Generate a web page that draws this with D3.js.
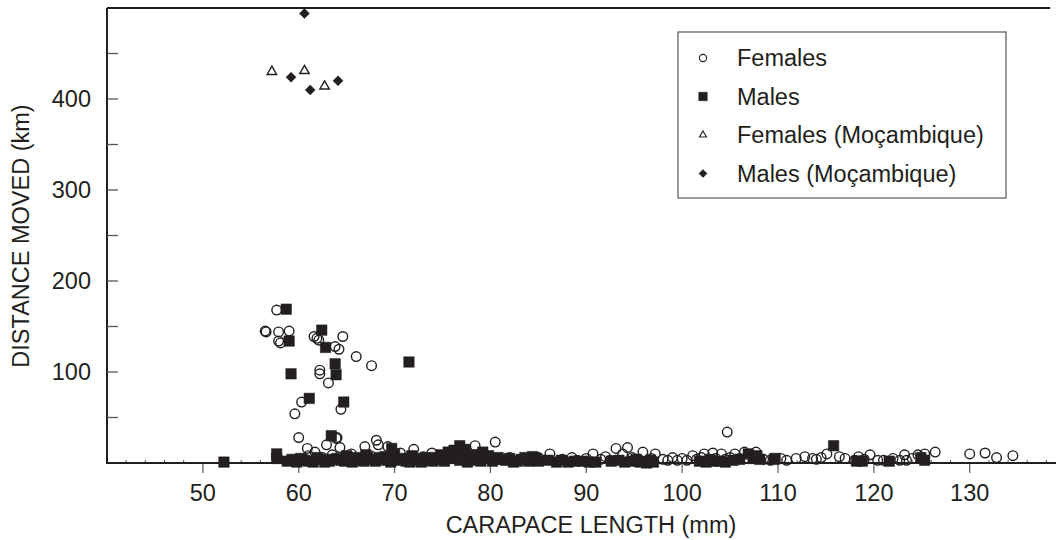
<!DOCTYPE html>
<html>
<head>
<meta charset="utf-8">
<script src="https://cdn.jsdelivr.net/npm/d3@7"></script>
<style>
    body { margin: 0; background: #fff; }
    text { font-family: "Liberation Sans", Arial, sans-serif; fill: #231f20; }
</style>
</head>
<body>
<div id="chart"></div>
<script>
// carapace length (mm), distance moved (km)
const females = [
    [57.7, 168], [56.5, 145], [56.6, 144], [57.9, 144], [59.0, 145], [57.9, 134], [58.1, 132],
    [61.6, 139], [61.9, 137], [62.1, 135], [63.8, 128], [64.2, 125], [64.6, 139], [66.0, 117],
    [67.6, 107], [62.2, 102], [62.2, 98], [63.1, 88], [60.3, 67], [59.6, 54], [64.4, 59],
    [60.0, 28], [64.0, 28],
    [60.9, 16], [61.7, 12], [62.9, 20], [63.9, 27], [64.3, 17], [66.9, 18], [68.1, 25], [68.3, 20],
    [69.3, 18], [70.6, 11], [72.0, 15], [73.9, 11], [78.4, 19], [80.5, 23], [86.2, 10], [90.7, 10],
    [93.1, 16], [94.3, 17], [93.8, 10], [95.9, 12], [97.2, 10], [99.0, 6], [101.1, 8], [102.3, 10],
    [103.2, 11], [104.1, 10], [105.5, 10], [106.5, 12], [107.7, 12], [104.7, 34], [110.3, 5],
    [110.9, 3], [111.9, 5], [112.8, 7], [113.6, 5], [115.1, 10], [116.4, 7], [118.4, 7], [119.6, 9],
    [120.4, 3], [122.7, 3], [123.2, 9], [123.4, 3], [124.6, 9], [125.3, 10], [126.4, 12],
    [130.0, 10], [131.6, 11], [132.8, 6], [134.5, 8],
    [59.5, 3], [60.5, 5], [61.0, 8], [62.5, 6], [63.5, 9], [65.0, 6], [65.5, 10], [67.5, 8],
    [71.0, 5], [73.0, 7], [74.5, 4], [76.0, 6], [79.5, 8], [81.0, 4], [82.0, 6], [83.0, 3],
    [84.0, 5], [85.0, 6], [87.5, 4], [88.5, 6], [89.0, 3], [90.0, 5], [91.5, 4], [92.0, 7],
    [92.5, 3], [94.8, 6], [95.5, 4], [96.8, 5], [98.0, 4], [98.5, 3], [99.5, 3], [100.0, 5],
    [100.5, 3], [101.5, 4], [102.0, 6], [103.5, 5], [104.5, 4], [105.0, 6], [106.0, 5],
    [108.5, 4], [109.2, 3], [114.0, 4], [114.5, 6], [117.0, 5], [118.0, 3], [119.0, 4],
    [121.0, 3], [122.0, 5], [124.0, 5]
];
const males = [
    [58.7, 169], [59.0, 134], [59.2, 98], [62.4, 146], [62.8, 127], [63.8, 109], [63.9, 97],
    [71.5, 111], [61.1, 71], [64.7, 67], [63.4, 30], [69.7, 16], [76.8, 19], [79.2, 12],
    [84.4, 7], [115.8, 19], [52.2, 1], [57.7, 5], [57.7, 10],
    [58.8, 2], [59.8, 1], [60.6, 3], [61.5, 1], [62.3, 4], [63.2, 2], [64.0, 5], [64.8, 2],
    [65.6, 1], [66.4, 3], [67.2, 6], [68.0, 2], [68.8, 4], [69.6, 1], [70.4, 3], [71.2, 2],
    [72.0, 5], [72.8, 1], [73.6, 3], [74.3, 6], [74.8, 9], [75.2, 2], [75.6, 12], [76.0, 5],
    [76.4, 8], [76.8, 3], [77.2, 10], [77.6, 1], [78.0, 6], [78.6, 3], [79.4, 5], [80.2, 2],
    [80.8, 6], [81.6, 3], [82.4, 1], [83.2, 4], [84.0, 2], [85.0, 2], [86.9, 1], [87.4, 3],
    [88.1, 1], [88.8, 2], [89.6, 2], [90.3, 1], [91.0, 1], [92.6, 2], [94.0, 1], [94.8, 2],
    [95.6, 1], [96.3, 0], [97.0, 1], [101.8, 2], [102.5, 1], [103.2, 2], [104.0, 2], [106.0, 4],
    [106.9, 10], [107.4, 5], [108.1, 4], [109.6, 4], [109.7, 5], [118.2, 2], [118.8, 2],
    [121.6, 2], [124.9, 6], [125.3, 3], [65.0, 8], [67.0, 9], [69.0, 7], [70.0, 10], [71.8, 8],
    [66.0, 6],
    [59.3, 4], [60.2, 5], [61.0, 2], [61.9, 6], [62.7, 1], [63.6, 4], [64.4, 3], [65.2, 5],
    [66.8, 2], [67.6, 4], [68.4, 6], [69.2, 3], [70.8, 5], [71.6, 1], [72.4, 3], [73.2, 6],
    [74.0, 2], [74.6, 4], [75.4, 7], [76.2, 14], [77.0, 6], [77.4, 15], [78.3, 9], [79.0, 2],
    [79.8, 8], [81.2, 4], [82.0, 5], [82.8, 2], [83.6, 6], [84.8, 5], [86.0, 3], [93.4, 3],
    [95.2, 4], [96.7, 3], [102.9, 4], [104.5, 1], [105.3, 3], [107.8, 8]
];
const femalesMoz = [[57.2, 430], [60.6, 431], [62.7, 414]];
const malesMoz = [[60.6, 494], [59.2, 424], [61.2, 410], [64.1, 420]];

const xTicks = [50, 60, 70, 80, 90, 100, 110, 120, 130];
const yTicks = [100, 200, 300, 400];
const legendLabels = ["Females", "Males", "Females (Moçambique)", "Males (Moçambique)"];

const width = 1058, height = 540;
const plotLeft = 107, plotRight = 1056, plotTop = 8, plotBottom = 463;
const ink = "#231f20";

const x = d3.scaleLinear().domain([40, 139]).range([plotLeft, plotRight]);
const y = d3.scaleLinear().domain([0, 500]).range([plotBottom, plotTop]);

const svg = d3.select("#chart").append("svg")
    .attr("width", width)
    .attr("height", height);

// frame: top and left edges
svg.append("line")
    .attr("x1", plotLeft).attr("x2", x(138.4)).attr("y1", plotTop).attr("y2", plotTop)
    .attr("stroke", ink).attr("stroke-width", 2);
svg.append("line")
    .attr("x1", plotLeft).attr("x2", plotLeft).attr("y1", plotTop).attr("y2", plotBottom)
    .attr("stroke", ink).attr("stroke-width", 2);

// y ticks every 50, inward
const yAll = d3.range(50, 500, 50);
svg.append("g").selectAll("line")
    .data(yAll)
    .join("line")
    .attr("x1", plotLeft).attr("x2", plotLeft + 11)
    .attr("y1", d => y(d)).attr("y2", d => y(d))
    .attr("stroke", "#555").attr("stroke-width", 1.3);
svg.append("g").selectAll("text")
    .data(yTicks)
    .join("text")
    .attr("x", 91)
    .attr("y", d => y(d))
    .attr("dy", "0.35em")
    .attr("text-anchor", "end")
    .style("font-size", "23.5px")
    .text(d => d);

// x minor ticks (every 2 mm, small, inward) and major ticks (outward)
svg.append("g").selectAll("line")
    .data(d3.range(42, 139, 2).filter(v => v % 10 !== 0))
    .join("line")
    .attr("x1", d => x(d)).attr("x2", d => x(d))
    .attr("y1", plotBottom).attr("y2", plotBottom - 3)
    .attr("stroke", "#555").attr("stroke-width", 1);
svg.append("g").selectAll("line")
    .data(xTicks)
    .join("line")
    .attr("x1", d => x(d)).attr("x2", d => x(d))
    .attr("y1", plotBottom).attr("y2", plotBottom + 10)
    .attr("stroke", "#666").attr("stroke-width", 1.3);
svg.append("g").selectAll("text")
    .data(xTicks)
    .join("text")
    .attr("x", d => x(d))
    .attr("y", 501)
    .attr("text-anchor", "middle")
    .style("font-size", "23.5px")
    .text(d => d);

// axis titles
svg.append("text")
    .attr("x", 591).attr("y", 533)
    .attr("text-anchor", "middle")
    .style("font-size", "23.5px")
    .text("CARAPACE LENGTH (mm)");
svg.append("text")
    .attr("transform", "translate(29,236) rotate(-90)")
    .attr("text-anchor", "middle")
    .style("font-size", "23.5px")
    .text("DISTANCE MOVED (km)");

// marker shapes
const circlePath = r => d3.symbol(d3.symbolCircle, Math.PI * r * r)();
const squarePath = s => `M${-s / 2},${-s / 2}h${s}v${s}h${-s}Z`;
const diamondPath = s => `M0,${-s / 2}L${s / 2},0L0,${s / 2}L${-s / 2},0Z`;
const trianglePath = s => {
    const h = s * Math.sqrt(3) / 2;
    return `M0,${-h * 2 / 3}L${s / 2},${h / 3}L${-s / 2},${h / 3}Z`;
};

const marks = svg.append("g");
function plot(data, path, filled) {
    marks.append("g").selectAll("path")
        .data(data)
        .join("path")
        .attr("transform", d => `translate(${x(d[0])},${y(d[1])})`)
        .attr("d", path)
        .attr("fill", filled ? ink : "none")
        .attr("stroke", ink)
        .attr("stroke-width", filled ? 0.5 : 1.4);
}
plot(females, circlePath(4.8), false);
plot(males, squarePath(10.5), true);
plot(femalesMoz, trianglePath(9.5), false);
plot(malesMoz, diamondPath(10), true);

// x axis line on top of the marks
svg.append("line")
    .attr("x1", plotLeft - 1).attr("x2", plotRight).attr("y1", plotBottom).attr("y2", plotBottom)
    .attr("stroke", ink).attr("stroke-width", 2);

// legend
const legend = svg.append("g");
legend.append("rect")
    .attr("x", 678).attr("y", 32)
    .attr("width", 328).attr("height", 166)
    .attr("fill", "#fff")
    .attr("stroke", "#555").attr("stroke-width", 1.2);
const legendShapes = [
    [circlePath(3.6), false],
    [squarePath(8.5), true],
    [trianglePath(7), false],
    [diamondPath(8), true]
];
const row = legend.selectAll("g.row")
    .data(legendLabels)
    .join("g")
    .attr("class", "row")
    .attr("transform", (d, i) => `translate(703,${58 + i * 38.5})`);
row.append("path")
    .attr("d", (d, i) => legendShapes[i][0])
    .attr("fill", (d, i) => legendShapes[i][1] ? ink : "none")
    .attr("stroke", ink)
    .attr("stroke-width", (d, i) => legendShapes[i][1] ? 0.5 : 1.1);
row.append("text")
    .attr("x", 34)
    .attr("dy", "0.35em")
    .style("font-size", "23.5px")
    .text(d => d);
</script>
</body>
</html>
